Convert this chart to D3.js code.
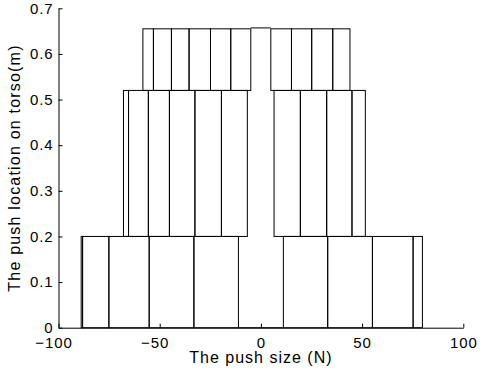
<!DOCTYPE html>
<html>
<head>
<meta charset="utf-8">
<script src="https://cdn.jsdelivr.net/npm/d3@7"></script>
<style>
  html, body { margin: 0; padding: 0; background: #fff; }
  svg { display: block; font-family: "Liberation Sans", Arial, Helvetica, sans-serif; }
</style>
</head>
<body>
<svg id="chart" width="480" height="379"></svg>
<script>
// ---- data ----
// push location tiers (m): bottom and top of each tier
const tierBase = [0, 0.2, 0.52];
const tierTop  = [0.2, 0.52, 0.655];
// push-size edges (N) of the boxes in each tier, negative side and positive side
const tier1Neg = [-88.8, -88.1, -75.1, -55.2, -33.1, -11.1];
const tier1Pos = [11.1, 33.0, 55.1, 75.2, 79.8];
const tier2Neg = [-67.9, -65.4, -55.6, -45.2, -32.6, -19.5, -6.7];
const tier2Pos = [6.5, 19.5, 32.5, 45.0, 51.6];
const tier3Neg = [-58.3, -53.1, -44.2, -35.5, -24.9, -14.9, -5.0];
const tier3Pos = [4.9, 15.1, 25.1, 35.5, 44.0];
// centre segments: [x0, x1, y]
const centreX0 = [-11.1, -5.0];
const centreX1 = [11.1, 4.9];
const centreY  = [0, 0.657];
// axes
const xTicks = [-100, -50, 0, 50, 100];
const yTicks = [0, 0.1, 0.2, 0.3, 0.4, 0.5, 0.6, 0.7];
const xLabel = "The push size (N)";
const yLabel = "The push location on torso(m)";

// ---- layout ----
const svg = d3.select("#chart");
const L = 58.5, R = 463.3, T = 8.3, B = 327.7;
const x = d3.scaleLinear().domain([-100, 100]).range([L, R]);
const y = d3.scaleLinear().domain([0, 0.7]).range([B, T]);

const tiers = [
  [tier1Neg, tier1Pos],
  [tier2Neg, tier2Pos],
  [tier3Neg, tier3Pos]
];

const g = svg.append("g");
tiers.forEach((groups, ti) => {
  groups.forEach(edges => {
    const boxes = d3.pairs(edges);
    g.selectAll(null).data(boxes).enter().append("rect")
      .attr("x", d => x(d[0]))
      .attr("width", d => x(d[1]) - x(d[0]))
      .attr("y", y(tierTop[ti]))
      .attr("height", y(tierBase[ti]) - y(tierTop[ti]))
      .attr("fill", "none")
      .attr("stroke", "#000")
      .attr("stroke-width", 1);
  });
});
// centre segments
g.selectAll(null).data(centreY).enter().append("line")
  .attr("x1", (d, i) => x(centreX0[i]))
  .attr("x2", (d, i) => x(centreX1[i]))
  .attr("y1", d => y(d))
  .attr("y2", d => y(d))
  .attr("stroke", "#000")
  .attr("stroke-width", 1);

// ---- axes ----
const FONT = "'Liberation Sans', Arial, Helvetica, sans-serif";
const fmt = d => (d < 0 ? "\u2212" + Math.abs(d) : String(d));
const xAxis = svg.append("g")
  .attr("transform", `translate(0,${B})`)
  .call(d3.axisBottom(x).tickValues(xTicks).tickSize(-4).tickSizeOuter(0).tickPadding(9.8).tickFormat(fmt));
xAxis.selectAll("text").attr("dx", d => d < 0 ? "-5" : "0");

const yAxis = svg.append("g")
  .attr("transform", `translate(${L},0)`)
  .call(d3.axisLeft(y).tickValues(yTicks).tickSize(-4).tickSizeOuter(0).tickPadding(5).tickFormat(d => d === 0 ? "0" : d3.format(".1f")(d)));

[xAxis, yAxis].forEach(a => {
  a.select(".domain").attr("stroke", "#000").attr("stroke-width", 1);
  a.selectAll(".tick line").attr("stroke", "#000");
  a.selectAll("text").attr("fill", "#000").attr("font-size", 15)
    .attr("letter-spacing", 0.9)
    .attr("font-family", FONT);
});

svg.append("text")
  .attr("x", (L + R) / 2)
  .attr("y", 363)
  .attr("text-anchor", "middle")
  .attr("font-size", 16)
  .attr("letter-spacing", 1)
  .attr("font-family", FONT)
  .text(xLabel);

svg.append("text")
  .attr("transform", `translate(20,${(T + B) / 2}) rotate(-90)`)
  .attr("text-anchor", "middle")
  .attr("font-size", 16)
  .attr("letter-spacing", 1.2)
  .attr("font-family", FONT)
  .text(yLabel);
</script>
</body>
</html>
